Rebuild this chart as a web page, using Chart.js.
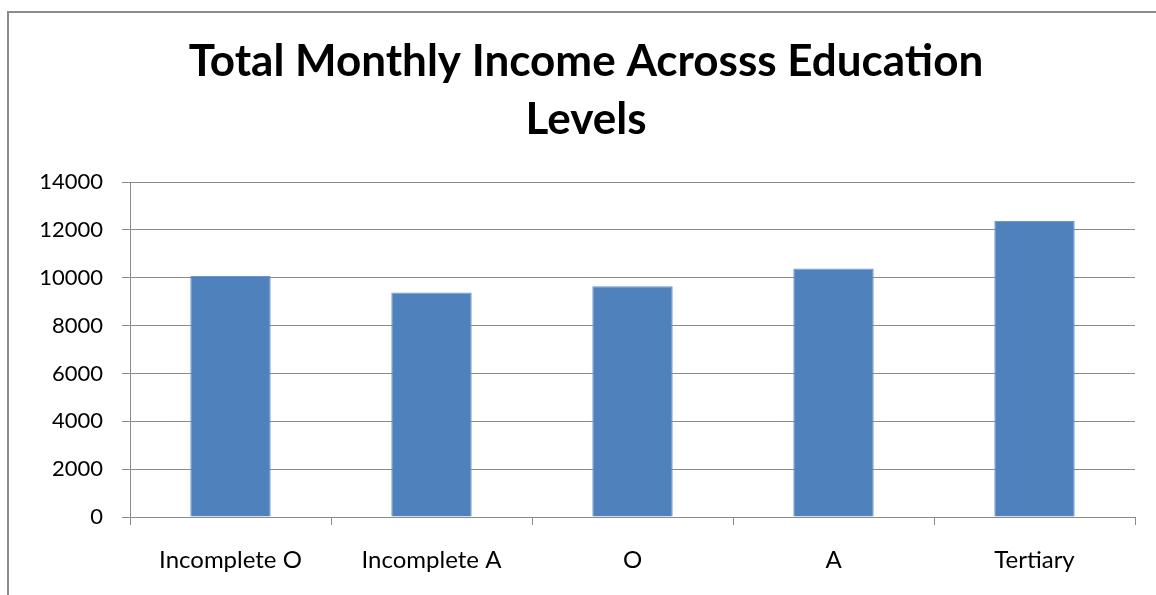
<!DOCTYPE html>
<html>
<head>
<meta charset="utf-8">
<script src="https://cdn.jsdelivr.net/npm/chart.js@4"></script>
<style>
  html, body { margin: 0; padding: 0; background: #fff; overflow: hidden; }
  #frame { position: absolute; left: 7px; top: 11px; width: 1200px; height: 640px; border-left: 2px solid #8c8c8c; border-top: 2px solid #8c8c8c; }
  #wrap { position: absolute; left: 0; top: 0; width: 1156px; height: 595px; }
</style>
</head>
<body>
<div id="frame"></div>
<div id="wrap"><canvas id="chart-income"></canvas></div>
<script>
// values
const levels = ['Incomplete O', 'Incomplete A', 'O', 'A', 'Tertiary'];
const income = [10080, 9390, 9650, 10390, 12380];
const titleLines = ['Total Monthly Income Acrosss Education', 'Levels'];

const axisGray = '#8a8a8a';

new Chart(document.getElementById('chart-income').getContext('2d'), {
    type: 'bar',
    data: { labels: levels, datasets: [{ data: income, backgroundColor: '#4F81BD', borderColor: '#6f97c8', borderWidth: 1, barPercentage: 0.4, categoryPercentage: 1 }] },
    options: {
        responsive: true, maintainAspectRatio: false, animation: false,
        layout: { padding: { left: 37, right: 21, top: 0, bottom: 0 } },
        plugins: {
            legend: { display: false }, tooltip: { enabled: false },
            title: { display: true, text: titleLines, color: '#000', font: { family: 'Lato', size: 44, weight: 'bold', lineHeight: 1.32 }, padding: { top: 33, bottom: 33 } }
        },
        scales: {
            x: {
                grid: { display: true, drawOnChartArea: false, drawTicks: true, tickLength: 8, color: axisGray, offset: true },
                border: { color: axisGray, width: 1 },
                ticks: { color: '#000', font: { family: 'Lato', size: 24 }, padding: 21, maxRotation: 0 },
                afterFit: s => { s.height = 78; }
            },
            y: {
                min: 0, max: 14000,
                grid: { color: axisGray, tickLength: 8 },
                border: { color: axisGray, width: 1 },
                ticks: { stepSize: 2000, color: '#000', font: { family: 'Lato', size: 22 }, padding: 19, callback: v => String(v) },
                afterFit: s => { s.width = 93; }
            }
        }
    }
});
</script>
</body>
</html>
